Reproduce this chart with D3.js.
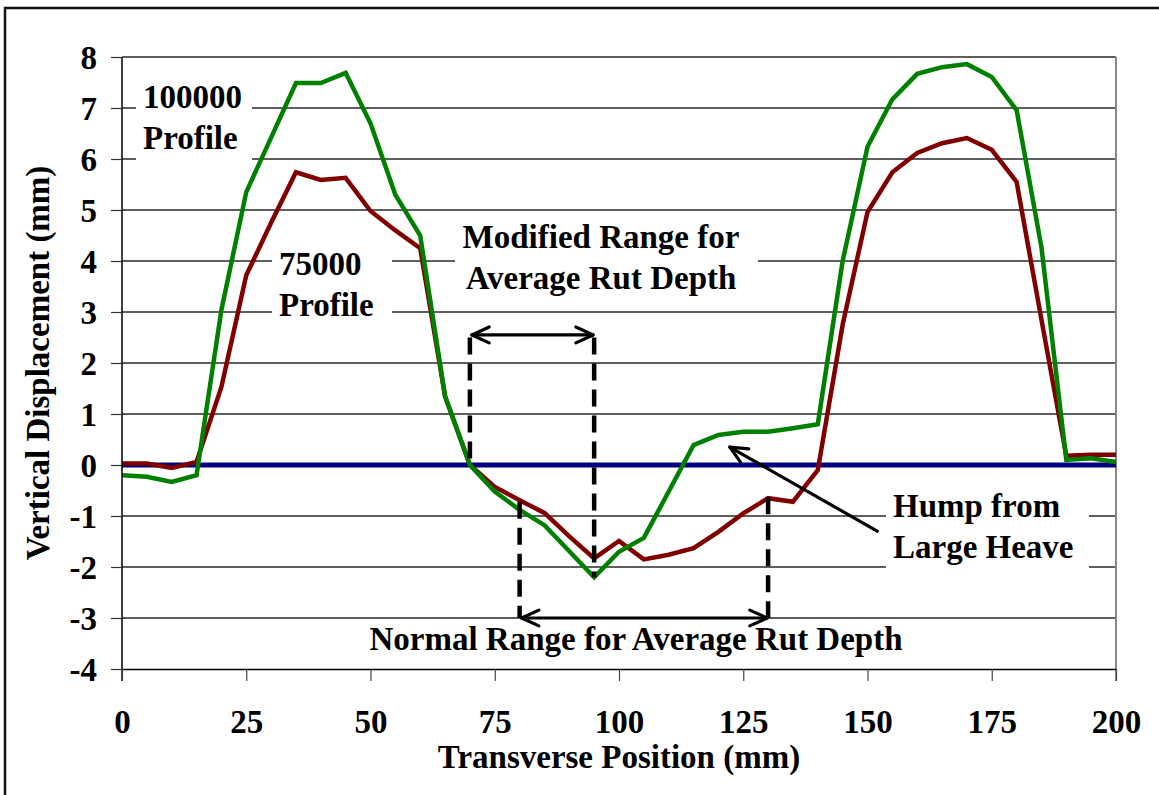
<!DOCTYPE html>
<html>
<head>
<meta charset="utf-8">
<script src="https://cdn.jsdelivr.net/npm/d3@7/dist/d3.min.js"></script>
<style>
  html, body { margin: 0; padding: 0; background: #fff; }
  svg { display: block; }
  text { font-family: "Liberation Serif", "Times New Roman", serif; font-weight: bold; font-size: 33px; fill: #000; }
</style>
</head>
<body>
<svg id="chart" width="1159" height="795"></svg>
<script>
// Transverse positions (mm)
const positions = [0,5,10,15,20,25,30,35,40,45,50,55,60,65,70,75,80,85,90,95,100,
  105,110,115,120,125,130,135,140,145,150,155,160,165,170,175,180,185,190,195,200];

// 75000-pass profile (mm)
const profile75000 = [0.03,0.03,-0.06,0.06,1.53,3.72,4.75,5.74,5.59,5.63,4.98,4.6,4.25,1.35,0.0,
  -0.43,-0.69,-0.94,-1.4,-1.83,-1.49,-1.85,-1.76,-1.63,-1.31,-0.95,-0.65,-0.72,-0.1,
  2.75,4.96,5.74,6.12,6.31,6.41,6.18,5.55,2.85,0.18,0.2,0.2];

// 100000-pass profile (mm)
const profile100000 = [-0.2,-0.23,-0.33,-0.2,3.04,5.35,6.42,7.49,7.49,7.69,6.7,5.3,4.5,1.35,0.0,
  -0.52,-0.88,-1.18,-1.69,-2.2,-1.7,-1.43,-0.52,0.39,0.59,0.65,0.65,0.72,0.8,
  4.0,6.24,7.17,7.67,7.8,7.86,7.61,6.96,4.27,0.1,0.13,0.06];

const xTicks = [0,25,50,75,100,125,150,175,200];
const yTicks = [-4,-3,-2,-1,0,1,2,3,4,5,6,7,8];

// Rut depth ranges [start, end] (mm)
const modifiedRange = [70, 95];
const normalRange = [80, 130];

const svg = d3.select("#chart");
const x = d3.scaleLinear().domain([0, 200]).range([122, 1116]);
const y = d3.scaleLinear().domain([-4, 8]).range([669, 57]);

// Outer frame
svg.append("rect").attr("x", 5).attr("y", 8).attr("width", 1200).attr("height", 850)
  .attr("fill", "none").attr("stroke", "#111").attr("stroke-width", 2.5);

// Horizontal gridlines
svg.append("g").selectAll("line").data(yTicks.filter(d => d !== -4)).join("line")
  .attr("x1", x(0)).attr("x2", x(200))
  .attr("y1", d => y(d)).attr("y2", d => y(d))
  .attr("stroke", "#2a2a2a").attr("stroke-width", 1.3);

// Right edge of plot area
svg.append("line").attr("x1", x(200)).attr("x2", x(200)).attr("y1", y(8)).attr("y2", y(-4) + 12)
  .attr("stroke", "#888").attr("stroke-width", 2);

// White boxes behind annotation text
const boxes = [
  [136, 68, 116, 94],
  [272, 244, 120, 82],
  [455, 218, 303, 84],
  [886, 482, 203, 96],
  [355, 624, 562, 38]
];
svg.append("g").selectAll("rect").data(boxes).join("rect")
  .attr("x", d => d[0]).attr("y", d => d[1]).attr("width", d => d[2]).attr("height", d => d[3])
  .attr("fill", "#fff");

// Zero reference line
svg.append("line").attr("x1", x(0)).attr("x2", x(200)).attr("y1", y(0)).attr("y2", y(0))
  .attr("stroke", "#000080").attr("stroke-width", 5);

// Profiles
const line = d3.line().x((d, i) => x(positions[i])).y(d => y(d));
svg.append("path").datum(profile75000).attr("d", line)
  .attr("fill", "none").attr("stroke", "#800000").attr("stroke-width", 4.5).attr("stroke-linejoin", "miter");
svg.append("path").datum(profile100000).attr("d", line)
  .attr("fill", "none").attr("stroke", "#008000").attr("stroke-width", 4.5).attr("stroke-linejoin", "miter");

// Y axis
const yAxis = svg.append("g").attr("transform", `translate(${x(0)},0)`)
  .call(d3.axisLeft(y).tickValues(yTicks).tickSize(11).tickSizeOuter(0).tickFormat(d3.format("d")));
yAxis.select(".domain").attr("stroke", "#000").attr("stroke-width", 1.5)
  .attr("d", `M0,${y(8)}V${y(-4) + 12}`);
yAxis.selectAll(".tick line").attr("stroke", "#333").attr("stroke-width", 1.2);
yAxis.selectAll(".tick text").attr("x", -25).attr("dy", "0.36em")
  .style("font-size", "33px").style("font-family", "'Liberation Serif', 'Times New Roman', serif").style("font-weight", "bold")
  .text(d => d < 0 ? "-" + Math.abs(d) : d);

// X axis
const xAxis = svg.append("g").attr("transform", `translate(0,${y(-4)})`)
  .call(d3.axisBottom(x).tickValues(xTicks).tickSize(12).tickSizeOuter(0));
xAxis.select(".domain").attr("stroke", "#000").attr("stroke-width", 1.5);
xAxis.selectAll(".tick line").attr("stroke", "#444").attr("stroke-width", 1.2);
xAxis.selectAll(".tick text").attr("y", 64).attr("dy", 0)
  .style("font-size", "33px").style("font-family", "'Liberation Serif', 'Times New Roman', serif").style("font-weight", "bold");

// Axis titles
svg.append("text").attr("x", 619).attr("y", 768).attr("text-anchor", "middle")
  .text("Transverse Position (mm)");
svg.append("text").attr("transform", "translate(49,363) rotate(-90)").attr("text-anchor", "middle")
  .text("Vertical Displacement (mm)");

// Dashed range markers
const dashes = [
  [modifiedRange[0], 2.5, 0],
  [modifiedRange[1], 2.5, -2.2],
  [normalRange[0], -0.72, -3],
  [normalRange[1], -0.63, -3]
];
svg.append("g").selectAll("line").data(dashes).join("line")
  .attr("x1", d => x(d[0])).attr("x2", d => x(d[0]))
  .attr("y1", d => y(d[1])).attr("y2", d => y(d[2]))
  .attr("stroke", "#000").attr("stroke-width", 4.5).attr("stroke-dasharray", "17,9");

// Open chevron arrowheads
function arrowHead(g, tipX, tipY, fromX, fromY) {
  const ang = Math.atan2(fromY - tipY, fromX - tipX);
  const len = 19, spread = 0.43;
  [ang - spread, ang + spread].forEach(a => {
    g.append("line").attr("x1", tipX).attr("y1", tipY)
      .attr("x2", tipX + len * Math.cos(a)).attr("y2", tipY + len * Math.sin(a))
      .attr("stroke", "#000").attr("stroke-width", 3.2).attr("stroke-linecap", "round");
  });
}
function arrow(x1, y1, x2, y2, both) {
  const g = svg.append("g");
  g.append("line").attr("x1", x1).attr("y1", y1).attr("x2", x2).attr("y2", y2)
    .attr("stroke", "#000").attr("stroke-width", 3.2);
  arrowHead(g, x2, y2, x1, y1);
  if (both) arrowHead(g, x1, y1, x2, y2);
}
arrow(x(modifiedRange[0]) + 2, y(2.55), x(modifiedRange[1]) - 1, y(2.55), true);
arrow(x(normalRange[0]) + 2, y(-3), x(normalRange[1]) - 1, y(-3), true);
arrow(x(152.2), y(-1.31), x(122.3), y(0.35), false);

// Annotation text
function label(lines, tx, ty, anchor) {
  const t = svg.append("text").attr("text-anchor", anchor || "start");
  lines.forEach((s, i) => t.append("tspan").attr("x", tx).attr("y", ty + i * 41).text(s));
}
label(["100000", "Profile"], 143, 108);
label(["75000", "Profile"], 279, 275);
label(["Modified Range for", "Average Rut Depth"], 601, 248, "middle");
label(["Hump from", "Large Heave"], 893, 517);
label(["Normal Range for Average Rut Depth"], 636, 650, "middle");
</script>
</body>
</html>
